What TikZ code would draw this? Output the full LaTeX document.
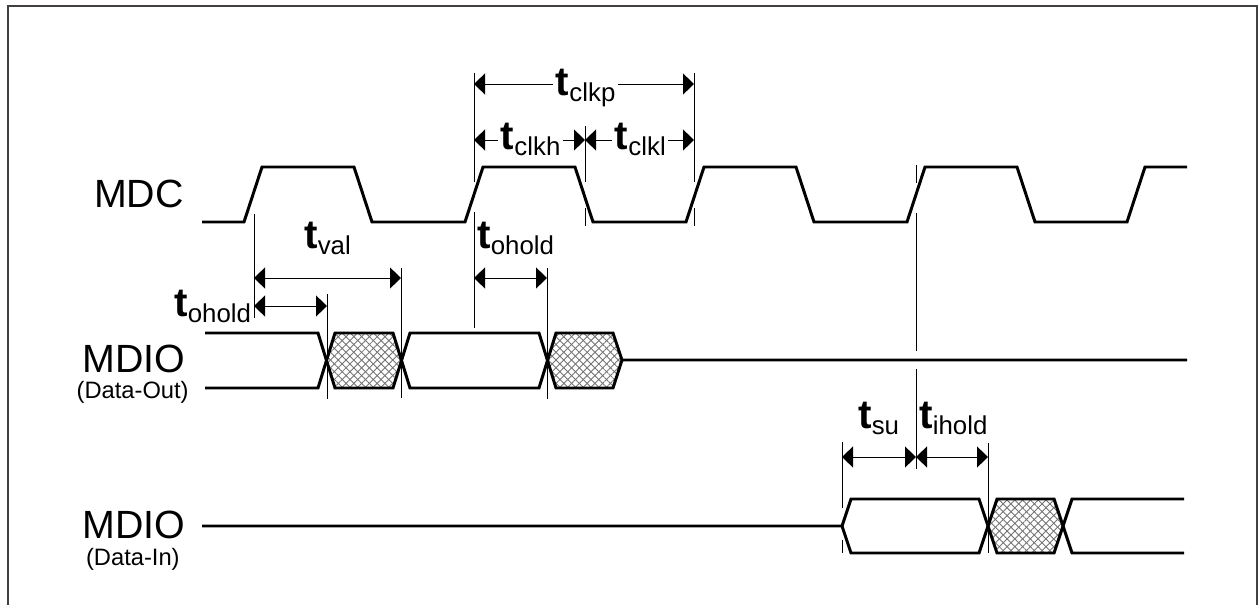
\documentclass[tikz,border=0pt]{standalone}
\usepackage{fontspec}
\setmainfont{Liberation Sans}
\usetikzlibrary{arrows.meta, patterns.meta}

% t with its subscript
\newcommand{\timelabel}[1]{{\fontsize{23}{23}\selectfont\bfseries t}{\fontsize{14.7}{14.7}\selectfont\raisebox{-3.5pt}{#1}}}

\begin{document}
\begin{tikzpicture}[x=0.02cm, y=-0.02cm]
    % Define colors for the frame and the guide lines
    \definecolor{framegrey}{rgb}{0.27, 0.25, 0.25}
    \definecolor{hatchgrey}{rgb}{0.45, 0.45, 0.45}

    \tikzset{
        signal/.style={line width=1.7pt, line join=miter},
        guide/.style={line width=0.55pt},
        dimarrow/.style={line width=0.55pt, {Triangle[length=11*0.02cm, width=21*0.02cm]}-{Triangle[length=11*0.02cm, width=21*0.02cm]}},
        hatched/.style={pattern={Lines[angle=45, distance=0.11cm, line width=0.5pt]}, pattern color=hatchgrey},
        crosshatched/.style={pattern={Lines[angle=-45, distance=0.11cm, line width=0.5pt]}, pattern color=hatchgrey},
        timing/.style={anchor=base west, inner sep=0pt},
        timingbreak/.style={timing, fill=white, inner xsep=1.5pt, inner ysep=0pt},
        signame/.style={anchor=base east, inner sep=0pt, font=\fontsize{22.4}{22.4}\selectfont},
        subname/.style={anchor=base east, inner sep=0pt, font=\fontsize{13.5}{13.5}\selectfont}
    }

    \useasboundingbox (0,0) rectangle (1258,605);

    % Frame, open at the bottom
    \draw[framegrey, line width=1.2pt] (8,605) -- (8,6) -- (1257,6) -- (1257,605);

    % Names of the signals
    \node[signame] (mdc) at (184,207) {MDC};
    \node[signame] (mdioout) at (185.5,372) {MDIO};
    \node[subname] (dataout) at (189,398) {(Data-Out)};
    \node[signame] (mdioin) at (185.5,538) {MDIO};
    \node[subname] (datain) at (180,565) {(Data-In)};

    % Guide lines
    \draw[guide] (254,214) -- (254,318);
    \draw[guide] (474,73) -- (474,182);
    \draw[guide] (474,212) -- (474,328);
    \draw[guide] (585,126) -- (585,182);
    \draw[guide] (585,208) -- (585,226);
    \draw[guide] (694,73) -- (694,182);
    \draw[guide] (694,208) -- (694,226);
    \draw[guide] (327,294) -- (327,399);
    \draw[guide] (401,268) -- (401,398);
    \draw[guide] (547,268) -- (547,399);
    \draw[guide] (916,165) -- (916,183);
    \draw[guide] (916,213) -- (916,351);
    \draw[guide] (916,369) -- (916,469);
    \draw[guide] (842,442) -- (842,508);
    \draw[guide] (842,540) -- (842,553);
    \draw[guide] (988,443) -- (988,553);

    % Hatched data regions
    \foreach \hatchstyle in {hatched, crosshatched} {
        \path[\hatchstyle] (327,360) -- (335,333) -- (393,333) -- (401,360) -- (393,388) -- (335,388) -- cycle;
        \path[\hatchstyle] (547,360) -- (556,333) -- (613,333) -- (622,360) -- (613,388) -- (556,388) -- cycle;
        \path[\hatchstyle] (988,526) -- (997,499) -- (1054,499) -- (1062,526) -- (1054,553) -- (997,553) -- cycle;
    }

    % MDC clock
    \draw[signal] (202,222) -- (244,222) -- (262,167) -- (354,167) -- (372,222) -- (465,222) -- (483,167) -- (575,167) -- (593,222) -- (686,222) -- (704,167) -- (796,167) -- (814,222) -- (907,222) -- (925,167) -- (1017,167) -- (1035,222) -- (1127,222) -- (1145,167) -- (1187,167);

    % MDIO Data-Out
    \draw[signal] (205,333) -- (318,333) -- (335,388) -- (393,388) -- (410,333) -- (539,333) -- (556,388) -- (613,388) -- (622,360) -- (1187,360);
    \draw[signal] (205,388) -- (318,388) -- (335,333) -- (393,333) -- (410,388) -- (539,388) -- (556,333) -- (613,333) -- (622,360);

    % MDIO Data-In
    \draw[signal] (202,526) -- (842,526) -- (851,499) -- (979,499) -- (997,553) -- (1054,553) -- (1072,499) -- (1184,499);
    \draw[signal] (842,526) -- (851,553) -- (979,553) -- (997,499) -- (1054,499) -- (1072,553) -- (1184,553);

    % Ends of the timing arrows
    \coordinate (clkpstart) at (474,84);
    \coordinate (clkpend) at (694,84);
    \coordinate (clkhstart) at (474,140);
    \coordinate (clkhend) at (585,140);
    \coordinate (clklend) at (694,140);
    \coordinate (valstart) at (254,278);
    \coordinate (valend) at (401,278);
    \coordinate (holdastart) at (254,306);
    \coordinate (holdaend) at (327,306);
    \coordinate (holdbstart) at (474,278);
    \coordinate (holdbend) at (547,278);
    \coordinate (sustart) at (842,457);
    \coordinate (suend) at (916,457);
    \coordinate (iholdend) at (988,457);

    % Timing arrows
    \draw[dimarrow] (clkpstart) -- (clkpend);
    \draw[dimarrow] (clkhstart) -- (clkhend);
    \draw[dimarrow] (clkhend) -- (clklend);
    \draw[dimarrow] (valstart) -- (valend);
    \draw[dimarrow] (holdastart) -- (holdaend);
    \draw[dimarrow] (holdbstart) -- (holdbend);
    \draw[dimarrow] (sustart) -- (suend);
    \draw[dimarrow] (suend) -- (iholdend);

    % Timing labels
    \node[timingbreak] (tclkp) at (553,95) {\timelabel{clkp}};
    \node[timingbreak] (tclkh) at (498,149) {\timelabel{clkh}};
    \node[timingbreak] (tclkl) at (612,149) {\timelabel{clkl}};
    \node[timing] (tval) at (304,248) {\timelabel{val}};
    \node[timing] (toholdb) at (477,248) {\timelabel{ohold}};
    \node[timing] (toholda) at (174,316) {\timelabel{ohold}};
    \node[timing] (tsu) at (858,428) {\timelabel{su}};
    \node[timing] (tihold) at (919,428) {\timelabel{ihold}};
\end{tikzpicture}
\end{document}
